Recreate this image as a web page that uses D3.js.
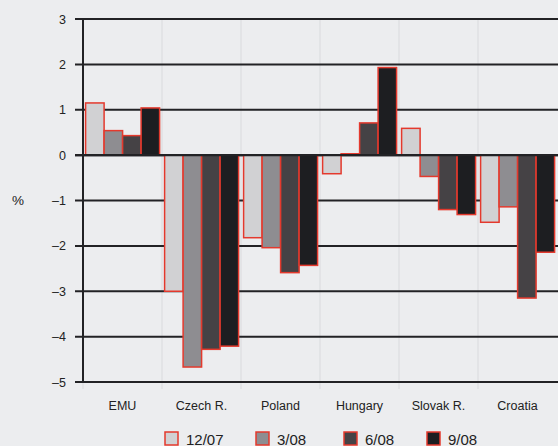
<!DOCTYPE html>
<html>
<head>
<meta charset="utf-8">
<script src="https://cdn.jsdelivr.net/npm/d3@7"></script>
<style>
  html, body { margin: 0; padding: 0; background: #ecedef; }
  svg { display: block; font-family: "Liberation Sans", Arial, sans-serif; }
</style>
</head>
<body>
<svg id="chart" width="558" height="446"></svg>
<script>
// Change in percentage points by country and survey date
const categories = ["EMU", "Czech R.", "Poland", "Hungary", "Slovak R.", "Croatia"];
const seriesNames = ["12/07", "3/08", "6/08", "9/08"];
const s1207 = [1.15, -3.0, -1.82, -0.41, 0.59, -1.48];
const s0308 = [0.54, -4.67, -2.04, 0.03, -0.47, -1.14];
const s0608 = [0.43, -4.28, -2.59, 0.71, -1.20, -3.15];
const s0908 = [1.04, -4.21, -2.43, 1.93, -1.31, -2.14];
const yTicks = [3, 2, 1, 0, -1, -2, -3, -4, -5];

const seriesValues = [s1207, s0308, s0608, s0908];
const fills = ["#d1d1d3", "#8e8d91", "#454245", "#1d1e21"];
const strokeRed = "#e4392d";

const svg = d3.select("#chart");

const x = d3.scaleBand().domain(categories).range([83, 557]).padding(0);
const xs = d3.scaleBand().domain(seriesNames).range([2.6, x.bandwidth() - 2.4]).padding(0);
const y = d3.scaleLinear().domain([-5, 3]).range([382, 19]);

// faint category separators
svg.append("g").selectAll("line")
  .data(categories)
  .join("line")
  .attr("x1", d => x(d)).attr("x2", d => x(d))
  .attr("y1", y(3)).attr("y2", 389)
  .attr("stroke", "#d9dadd").attr("stroke-width", 1);

// horizontal gridlines with left tick stubs
svg.append("g").selectAll("line")
  .data(yTicks)
  .join("line")
  .attr("x1", 75).attr("x2", 558)
  .attr("y1", d => y(d)).attr("y2", d => y(d))
  .attr("stroke", "#222225").attr("stroke-width", 2);

// bars
const groups = svg.append("g").selectAll("g")
  .data(categories)
  .join("g")
  .attr("transform", d => `translate(${x(d)},0)`);

groups.selectAll("rect")
  .data((c, i) => seriesNames.map((s, k) => ({ s, k, v: seriesValues[k][i] })))
  .join("rect")
  .attr("x", d => xs(d.s))
  .attr("width", xs.bandwidth())
  .attr("y", d => y(Math.max(0, d.v)))
  .attr("height", d => Math.abs(y(d.v) - y(0)))
  .attr("fill", d => fills[d.k])
  .attr("stroke", strokeRed)
  .attr("stroke-width", 1.5);

// zero line on top
svg.append("line")
  .attr("x1", 75).attr("x2", 558)
  .attr("y1", y(0)).attr("y2", y(0))
  .attr("stroke", "#222225").attr("stroke-width", 2.2);

// y axis line
svg.append("line")
  .attr("x1", 83).attr("x2", 83)
  .attr("y1", y(3) - 1).attr("y2", y(-5) + 1)
  .attr("stroke", "#222225").attr("stroke-width", 2);

// y tick labels
svg.append("g").selectAll("text")
  .data(yTicks)
  .join("text")
  .attr("x", 66).attr("y", d => y(d))
  .attr("dy", "0.36em")
  .attr("text-anchor", "end")
  .attr("font-size", 12.5)
  .attr("fill", "#222")
  .text(d => d < 0 ? "\u2013" + Math.abs(d) : d);

svg.append("text")
  .attr("x", 18).attr("y", y(-1))
  .attr("dy", "0.36em")
  .attr("text-anchor", "middle")
  .attr("font-size", 13.5)
  .attr("fill", "#222")
  .text("%");

// category labels
svg.append("g").selectAll("text")
  .data(categories)
  .join("text")
  .attr("x", d => x(d) + x.bandwidth() / 2)
  .attr("y", 410)
  .attr("text-anchor", "middle")
  .attr("font-size", 12.5)
  .attr("fill", "#222")
  .text(d => d);

// legend
const legendX = [165, 256, 344, 427];
const legend = svg.append("g").selectAll("g")
  .data(seriesNames)
  .join("g")
  .attr("transform", (d, i) => `translate(${legendX[i]},432)`);
legend.append("rect")
  .attr("width", 13).attr("height", 13)
  .attr("fill", (d, i) => fills[i])
  .attr("stroke", strokeRed).attr("stroke-width", 1.5);
legend.append("text")
  .attr("x", 21).attr("y", 13)
  .attr("font-size", 15)
  .attr("fill", "#222")
  .text(d => d);
</script>
</body>
</html>
